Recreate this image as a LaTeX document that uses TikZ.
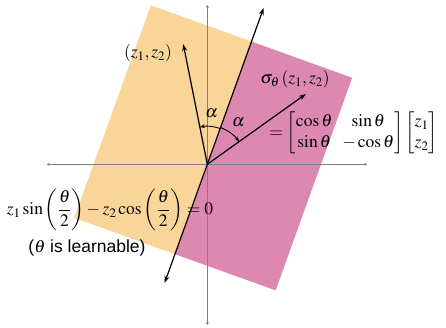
\documentclass[tikz,border=0pt]{standalone}
\usepackage{amsmath}
\usepackage{mathptmx}
\usepackage[no-math]{fontspec}
\setsansfont{Liberation Sans}
\usetikzlibrary{arrows.meta}
\definecolor{halforange}{RGB}{249,213,154}
\definecolor{halfpink}{RGB}{221,136,176}

\begin{document}
\begin{tikzpicture}[>={Stealth[length=7pt,width=5pt]}, x=1pt, y=1pt,
    every node/.style={font=\fontsize{17.5}{21}\selectfont},
    axis/.style={gray, line width=0.5pt, {Stealth[length=3pt,width=3pt]}-{Stealth[length=3pt,width=3pt]}},
    vec/.style={->, line width=1.2pt},
    anglearc/.style={->, line width=0.9pt, >={Stealth[length=5pt,width=4pt]}}]
    \useasboundingbox (-207.3,-162.7) rectangle (238.7,164.3);

    % Halbebenen (gedrehtes Rechteck)
    \def\L{70.2}
    \begin{scope}[shift={(\L:17.5)}, rotate=\L-90]
      \fill[halforange] (-107,-113) rectangle (0,113);
      \fill[halfpink] (0,-113) rectangle (107,113);
    \end{scope}

    % Achsen
    \coordinate (O) at (0,0);
    \coordinate (xl) at (-160.6,0);
    \coordinate (xr) at (160,0);
    \coordinate (yb) at (0,-160.7);
    \coordinate (yt) at (0,159.5);
    \draw[axis] (xl) -- (xr);
    \draw[axis] (yb) -- (yt);

    % Trennlinie
    \coordinate (lb) at (\L+180:126);
    \coordinate (lt) at (\L:166);
    \draw[<->, line width=1.2pt] (lb) -- (lt);

    % Vektoren
    \coordinate (z) at (101.3:122.5);
    \coordinate (s) at (35.5:121);
    \draw[vec] (O) -- (z);
    \draw[vec] (O) -- (s);

    % Winkel
    \draw[anglearc] ([shift={(\L:38pt)}]O) arc[start angle=\L, end angle=101.3, radius=38pt];
    \draw[anglearc] ([shift={(\L:39pt)}]O) arc[start angle=\L, end angle=35.5, radius=39pt];
    \node (a1) at (4.4,51) {$\alpha$};
    \node (a2) at (31,41.6) {$\alpha$};

    % Beschriftungen
    \node (zlab) at (-59.3,111.3) {$(z_1,z_2)$};
    \node (slab) at (87.7,85.3) {$\sigma_\theta\left(z_1,z_2\right)$};
    \node (rot) at (146.2,31.3) {$=\begin{bmatrix}\cos\theta & \sin\theta\\ \sin\theta & -\cos\theta\end{bmatrix}\begin{bmatrix}z_1\\ z_2\end{bmatrix}$};
    \node (eq) at (-97.3,-45.7) {$z_1\sin\left(\dfrac{\theta}{2}\right)-z_2\cos\left(\dfrac{\theta}{2}\right)=0$};
    \node (learn) at (-120.3,-83.7) {\sffamily(\(\theta\) is learnable)};
\end{tikzpicture}
\end{document}
